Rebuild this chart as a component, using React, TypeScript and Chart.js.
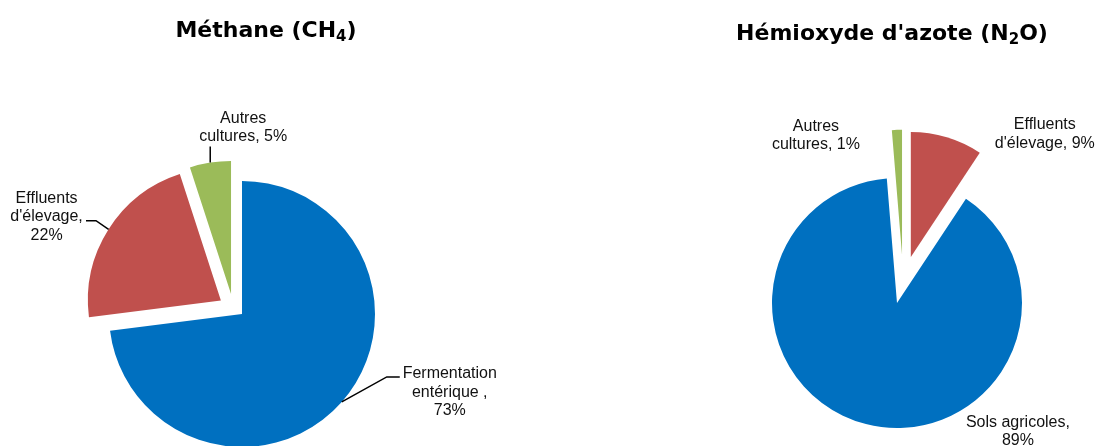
import React, { useEffect, useRef } from 'react';
import { Chart, registerables } from 'chart.js';

Chart.register(...registerables);

// ---------- Data ----------
const ch4Title = 'Méthane (CH';
const ch4Sub = '4';
const ch4Categories = ['Fermentation entérique ', "Effluents d'élevage", 'Autres cultures'];
const ch4Values = [73, 22, 5];

const n2oTitle = 'Hémioxyde d\'azote (N';
const n2oSub = '2';
const n2oTitleEnd = 'O)';
const n2oCategories = ["Effluents d'élevage", 'Sols agricoles', 'Autres cultures'];
const n2oValues = [9.3, 89.4, 1.3];

// ---------- Styles / layout ----------
const BLUE = '#0070C0';
const RED = '#C0504D';
const GREEN = '#9BBB59';
const LABEL_FONT = '16px "Liberation Sans", Arial, sans-serif';
const LABEL_LINE_H = 18.5;

type LabelLayout = { dx: number; dy: number; wrap: number; leader?: [number, number, number] };

// explode: [radial distance, tangential shift] per slice
const ch4Style = {
  colors: [BLUE, RED, GREEN],
  explode: [[0, 0], [25, 0], [21.5, -7.7]] as [number, number][],
  radius: 133,
  padding: { top: 182, left: 0, right: 64, bottom: 0 },
  labels: [
    { dx: 108, dy: -11, wrap: 100, leader: [45, -25, 13] },
    { dx: -62, dy: -14, wrap: 75, leader: [-12.6, -8.6, -10] },
    { dx: 33, dy: -36.5, wrap: 95, leader: [0, -16, 0] },
  ] as LabelLayout[],
};

const n2oStyle = {
  colors: [RED, BLUE, GREEN],
  explode: [[48, 0], [0, 0], [48, 7]] as [number, number][],
  radius: 125,
  padding: { top: 160, left: 149, right: 0, bottom: 0 },
  labels: [
    { dx: 98, dy: -5, wrap: 105 },
    { dx: 152, dy: 6, wrap: 110 },
    { dx: -81, dy: 4, wrap: 95 },
  ] as LabelLayout[],
};

function makeLabelTexts(categories: string[], values: number[]): string[] {
  const sum = values.reduce((a, b) => a + b, 0);
  return categories.map((c, i) => `${c}, ${Math.round((values[i] / sum) * 100)}%`);
}

function wrapText(ctx: CanvasRenderingContext2D, text: string, maxW: number): string[] {
  const words = text.split(' ');
  const lines: string[] = [];
  let cur = '';
  for (const w of words) {
    const test = cur ? cur + ' ' + w : w;
    if (cur && ctx.measureText(test).width > maxW) {
      lines.push(cur);
      cur = w;
    } else {
      cur = test;
    }
  }
  if (cur) lines.push(cur);
  return lines;
}

const explodePlugin = (explode: [number, number][]) => ({
  id: 'explodeSlices',
  afterDatasetsUpdate(chart: any) {
    const meta = chart.getDatasetMeta(0);
    meta.data.forEach((el: any, i: number) => {
      const [d, t] = explode[i] || [0, 0];
      const mid = (el.startAngle + el.endAngle) / 2;
      el.x += Math.cos(mid) * d - Math.sin(mid) * t;
      el.y += Math.sin(mid) * d + Math.cos(mid) * t;
    });
  },
});

const labelPlugin = (texts: string[], layout: LabelLayout[]) => ({
  id: 'pieLabels',
  afterDatasetsDraw(chart: any) {
    const ctx: CanvasRenderingContext2D = chart.ctx;
    const meta = chart.getDatasetMeta(0);
    ctx.save();
    ctx.font = LABEL_FONT;
    meta.data.forEach((el: any, i: number) => {
      const L = layout[i];
      const mid = (el.startAngle + el.endAngle) / 2;
      const ax = el.x + Math.cos(mid) * el.outerRadius;
      const ay = el.y + Math.sin(mid) * el.outerRadius;
      if (L.leader) {
        const ex = ax + L.leader[0];
        const ey = ay + L.leader[1];
        ctx.beginPath();
        ctx.moveTo(ax, ay);
        ctx.lineTo(ex, ey);
        ctx.lineTo(ex + L.leader[2], ey);
        ctx.strokeStyle = '#000';
        ctx.lineWidth = 1.5;
        ctx.stroke();
      }
      const lines = wrapText(ctx, texts[i], L.wrap);
      const cx = ax + L.dx;
      const cy = ay + L.dy;
      ctx.fillStyle = '#111';
      ctx.textAlign = 'center';
      ctx.textBaseline = 'alphabetic';
      lines.forEach((ln, k) => {
        const yc = cy + (k - (lines.length - 1) / 2) * LABEL_LINE_H;
        ctx.fillText(ln, cx, yc + 6);
      });
    });
    ctx.restore();
  },
});

type PieProps = {
  categories: string[];
  values: number[];
  style: typeof ch4Style;
  left: number;
  width: number;
};

function PieChart({ categories, values, style, left, width }: PieProps) {
  const ref = useRef<HTMLCanvasElement>(null);
  useEffect(() => {
    const canvas = ref.current;
    if (!canvas) return;
    const texts = makeLabelTexts(categories, values);
    const chart = new Chart(canvas, {
      type: 'pie',
      data: {
        labels: categories,
        datasets: [
          {
            data: values,
            backgroundColor: style.colors,
            borderWidth: 0,
            radius: style.radius,
          } as any,
        ],
      },
      options: {
        responsive: false,
        animation: false,
        events: [],
        layout: { padding: style.padding },
        plugins: {
          legend: { display: false },
          tooltip: { enabled: false },
          title: { display: false },
        },
      },
      plugins: [explodePlugin(style.explode), labelPlugin(texts, style.labels)],
    });
    return () => chart.destroy();
  }, []);
  return (
    <canvas
      ref={ref}
      width={width}
      height={446}
      style={{ position: 'absolute', left, top: 0, width, height: 446 }}
    />
  );
}

const titleStyle: React.CSSProperties = {
  position: 'absolute',
  width: 500,
  textAlign: 'center',
  font: 'bold 22px "DejaVu Sans", Verdana, sans-serif',
  lineHeight: '26px',
  color: '#000',
  whiteSpace: 'nowrap',
};

const subStyle: React.CSSProperties = {
  fontSize: 15,
  verticalAlign: 'baseline',
  position: 'relative',
  top: 4,
  lineHeight: 0,
};

export default function App() {
  return (
    <div
      style={{
        position: 'absolute',
        left: 0,
        top: 0,
        width: 1097,
        height: 446,
        background: '#fff',
        overflow: 'hidden',
      }}
    >
      <PieChart categories={ch4Categories} values={ch4Values} style={ch4Style} left={0} width={548} />
      <PieChart categories={n2oCategories} values={n2oValues} style={n2oStyle} left={548} width={549} />
      <div style={{ ...titleStyle, left: 266 - 250, top: 16.5 }}>
        {ch4Title}
        <span style={subStyle}>{ch4Sub}</span>)
      </div>
      <div style={{ ...titleStyle, left: 892 - 250, top: 19.5 }}>
        {n2oTitle}
        <span style={subStyle}>{n2oSub}</span>
        {n2oTitleEnd}
      </div>
    </div>
  );
}
